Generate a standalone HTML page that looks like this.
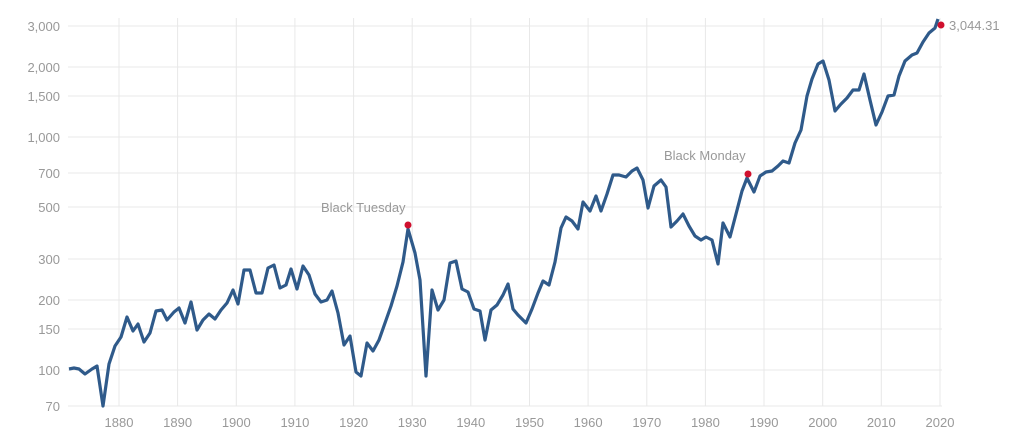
<!DOCTYPE html>
<html><head><meta charset="utf-8"><style>
html,body{margin:0;padding:0;background:#fff;}
svg{display:block;font-family:"Liberation Sans",sans-serif;}
</style></head><body>
<svg width="1024" height="441" viewBox="0 0 1024 441">
<g stroke="#e8e8e8" stroke-width="1">
<line x1="68" x2="942" y1="26" y2="26"/><line x1="68" x2="942" y1="67" y2="67"/>
<line x1="68" x2="942" y1="96" y2="96"/><line x1="68" x2="942" y1="137" y2="137"/>
<line x1="68" x2="942" y1="173" y2="173"/><line x1="68" x2="942" y1="207" y2="207"/>
<line x1="68" x2="942" y1="259" y2="259"/><line x1="68" x2="942" y1="300" y2="300"/>
<line x1="68" x2="942" y1="329" y2="329"/><line x1="68" x2="942" y1="370" y2="370"/>
<line x1="68" x2="942" y1="406" y2="406"/>
<line x1="119" x2="119" y1="18" y2="406"/><line x1="177.6" x2="177.6" y1="18" y2="406"/>
<line x1="236.3" x2="236.3" y1="18" y2="406"/><line x1="294.9" x2="294.9" y1="18" y2="406"/>
<line x1="353.6" x2="353.6" y1="18" y2="406"/><line x1="412.2" x2="412.2" y1="18" y2="406"/>
<line x1="470.8" x2="470.8" y1="18" y2="406"/><line x1="529.5" x2="529.5" y1="18" y2="406"/>
<line x1="588.1" x2="588.1" y1="18" y2="406"/><line x1="646.8" x2="646.8" y1="18" y2="406"/>
<line x1="705.4" x2="705.4" y1="18" y2="406"/><line x1="764" x2="764" y1="18" y2="406"/>
<line x1="822.7" x2="822.7" y1="18" y2="406"/><line x1="881.3" x2="881.3" y1="18" y2="406"/>
<line x1="940" x2="940" y1="18" y2="406"/>
</g>
<g fill="#999" font-size="13" text-anchor="end">
<text x="60" y="31">3,000</text><text x="60" y="72">2,000</text><text x="60" y="101">1,500</text>
<text x="60" y="142">1,000</text><text x="60" y="178">700</text><text x="60" y="212">500</text>
<text x="60" y="264">300</text><text x="60" y="305">200</text><text x="60" y="334">150</text>
<text x="60" y="375">100</text><text x="60" y="411">70</text>
</g>
<g fill="#999" font-size="13" text-anchor="middle">
<text x="119" y="427">1880</text><text x="177.6" y="427">1890</text><text x="236.3" y="427">1900</text>
<text x="294.9" y="427">1910</text><text x="353.6" y="427">1920</text><text x="412.2" y="427">1930</text>
<text x="470.8" y="427">1940</text><text x="529.5" y="427">1950</text><text x="588.1" y="427">1960</text>
<text x="646.8" y="427">1970</text><text x="705.4" y="427">1980</text><text x="764" y="427">1990</text>
<text x="822.7" y="427">2000</text><text x="881.3" y="427">2010</text><text x="940" y="427">2020</text>
</g>
<polyline fill="none" stroke="#2f5a8a" stroke-width="3.2" stroke-linejoin="round" points="69,369 74,368 79,369 85,374 92,369 97,366 103,406 109,364 115,346 121,337 127,317 133,331 138,324 144,342 150,333 156,311 162,310 167,320 174,312 179,308 185,323 191,302 197,330 203,320 209,314 215,319 221,310 227,303 233,290 238,304 244,270 250,270 256,293 262,293 268,268 274,265 280,288 286,285 291,269 297,289 303,266 309,275 315,294 321,302 327,300 332,291 338,313 344,345 350,336 356,372 361,376 367,343 373,351 379,340 385,323 391,306 397,286 403,262 408,229 415,253 420,280 426,376 432,290 438,310 444,300 450,263 456,261 462,289 468,292 474,309 480,311 485,340 491,310 497,305 503,295 508,284 513,309 518,315 526,323 532,309 538,293 543,281 549,285 555,262 561,228 566,217 572,221 578,229 583,202 590,211 596,196 601,211 607,194 613,175 619,175 626,177 632,171 637,168 643,180 648,208 654,186 661,180 666,187 671,227 677,221 683,214 689,226 695,236 701,240 706,237 712,240 718,264 723,223 730,237 736,214 742,191 747,178 754,192 760,176 766,172 772,171 778,166 783,161 789,163 795,143 801,130 807,96 812,79 818,64 823,61 829,80 835,111 841,104 847,98 853,90 859,90 864,74 870,100 876,125 882,112 888,96 894,95 899,76 905,61 912,55 917,53 923,42 929,33 935,28 938,19"/>
<circle cx="408" cy="225" r="3.5" fill="#d0102e"/>
<circle cx="748" cy="174" r="3.5" fill="#d0102e"/>
<circle cx="941" cy="25" r="3.5" fill="#d0102e"/>
<g fill="#999" font-size="13">
<text x="321" y="212">Black Tuesday</text>
<text x="664" y="160">Black Monday</text>
<text x="949" y="30">3,044.31</text>
</g>
</svg>
</body></html>
